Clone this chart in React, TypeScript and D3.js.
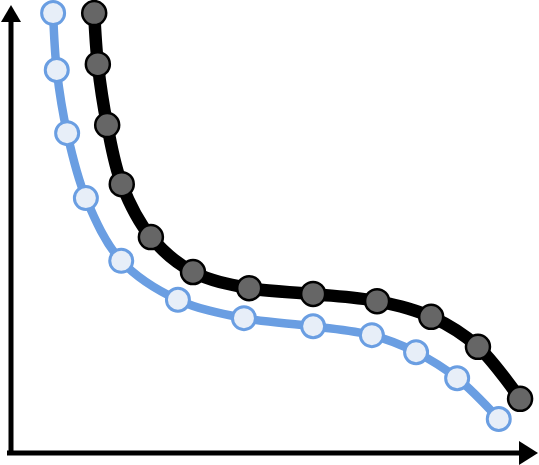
import React from "react";
import * as d3 from "d3";

const seriesBlackX = [16.0, 16.7, 18.5, 21.3, 26.9, 35.0, 45.8, 58.1, 70.4, 80.8, 89.8, 97.9];
const seriesBlackY = [98.2, 86.8, 73.2, 60.0, 48.2, 40.4, 36.8, 35.5, 33.9, 30.4, 23.7, 12.1];
const seriesBlueX = [8.1, 8.8, 10.8, 14.4, 21.2, 32.1, 44.8, 58.1, 69.4, 77.9, 85.8, 93.8];
const seriesBlueY = [98.2, 85.5, 71.4, 56.9, 42.9, 34.2, 30.1, 28.3, 26.3, 22.5, 16.7, 7.6];

const W = 539;
const H = 465;

export default function App() {
  const x = d3.scaleLinear().domain([0, 100]).range([11, 531]);
  const y = d3.scaleLinear().domain([0, 100]).range([453, 5]);
  const line = d3
    .line<[number, number]>()
    .x((d) => x(d[0]))
    .y((d) => y(d[1]))
    .curve(d3.curveCatmullRom.alpha(0.5));
  const black: [number, number][] = seriesBlackX.map((v, i) => [v, seriesBlackY[i]]);
  const blue: [number, number][] = seriesBlueX.map((v, i) => [v, seriesBlueY[i]]);
  const x0 = x(0);
  const y0 = y(0);
  return (
    <svg
      width={W}
      height={H}
      style={{ position: "absolute", left: 0, top: 0, background: "#fff" }}
    >
      {/* axes */}
      <line x1={x0} y1={y0 + 2} x2={x0} y2={20} stroke="#000" strokeWidth={5} />
      <path d={`M${x0 - 10},${22} L${x0},${5} L${x0 + 10},${22} Z`} fill="#000" />
      <line x1={x0 - 4} y1={y0} x2={522} y2={y0} stroke="#000" strokeWidth={5} />
      <path d={`M${519},${y0 - 12} L${538},${y0} L${519},${y0 + 12} Z`} fill="#000" />

      {/* blue series */}
      <path d={line(blue) || ""} fill="none" stroke="#6a9ee2" strokeWidth={8.5} strokeLinecap="round" />
      {blue.map((d, i) => (
        <circle key={"b" + i} cx={x(d[0])} cy={y(d[1])} r={11.5} fill="#e7eef8" stroke="#6a9ee2" strokeWidth={3} />
      ))}

      {/* black series */}
      <path d={line(black) || ""} fill="none" stroke="#000" strokeWidth={12.5} strokeLinecap="round" />
      {black.map((d, i) => (
        <circle key={"k" + i} cx={x(d[0])} cy={y(d[1])} r={12} fill="#666666" stroke="#000" strokeWidth={2.5} />
      ))}
    </svg>
  );
}
